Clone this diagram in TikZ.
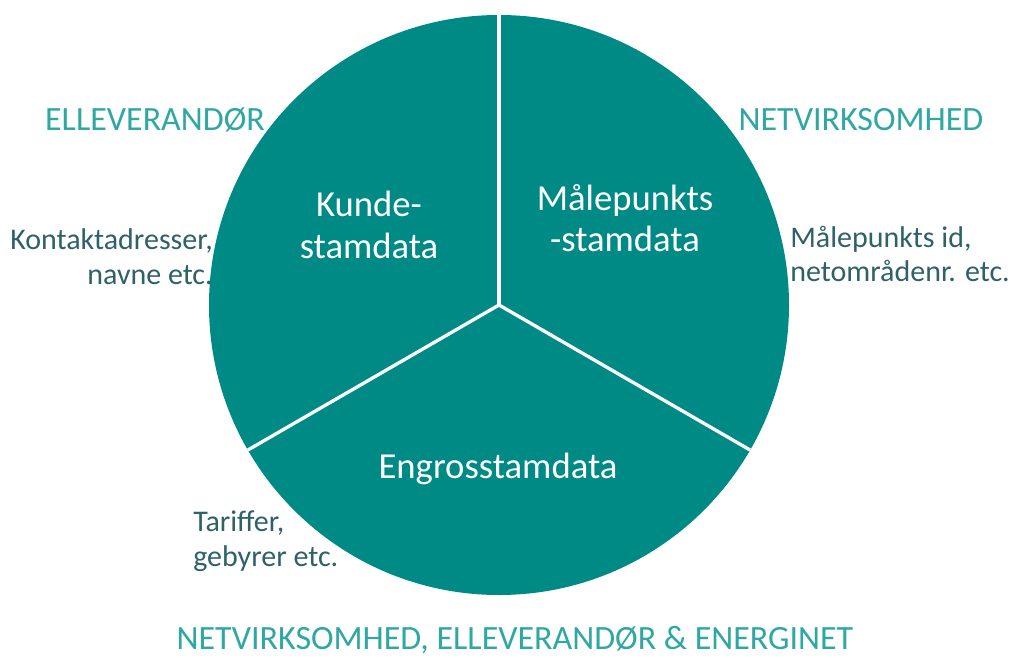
\documentclass[tikz,border=0pt]{standalone}
\usepackage{fontspec}
\setmainfont{Carlito}
\definecolor{pie}{HTML}{008A85}
\definecolor{head}{HTML}{2FA7A2}
\definecolor{side}{HTML}{2F6169}
\begin{document}
\begin{tikzpicture}[x=0.75pt,y=-0.75pt,
    every node/.style={inner sep=0pt, align=center},
    inner/.style={text=white, font=\fontsize{27.5}{31}\selectfont},
    header/.style={text=head, font=\fontsize{25.5}{30}\selectfont},
    sidetext/.style={text=side, font=\fontsize{22.5}{26}\selectfont}]
            \useasboundingbox (0,0) rectangle (1014,657);
            \coordinate (c) at (499,305);
            \fill[pie] (c) circle[radius=290];
            \draw[white, line width=2.5pt] (c) -- ++(0,-290);
            \draw[white, line width=2.5pt] (c) -- ++(-251.1,145);
            \draw[white, line width=2.5pt] (c) -- ++(251.1,145);

            \node[inner] (kunde) at (369,225) {Kunde-\\stamdata};
            \node[inner] (maale) at (625,218) {Målepunkts\\-stamdata};
            \node[inner] (engros) at (498,469) {Engrosstamdata};

            \node[header] (elleverandoer) at (155,120) {ELLEVERANDØR};
            \node[header] (netvirk) at (861,120) {NETVIRKSOMHED};
            \node[header] (alle) at (515,640) {NETVIRKSOMHED, ELLEVERANDØR \& ENERGINET};

            \node[sidetext, align=right, anchor=east] (kontakt) at (213,257) {Kontaktadresser,\\navne etc.};
            \node[sidetext, align=left, anchor=west] (maaleid) at (790,254) {Målepunkts id,\\netområdenr. etc.};
            \node[sidetext, align=left, anchor=west] (tarif) at (193,541) {Tariffer,\\gebyrer etc.};
        \end{tikzpicture}
\end{document}
